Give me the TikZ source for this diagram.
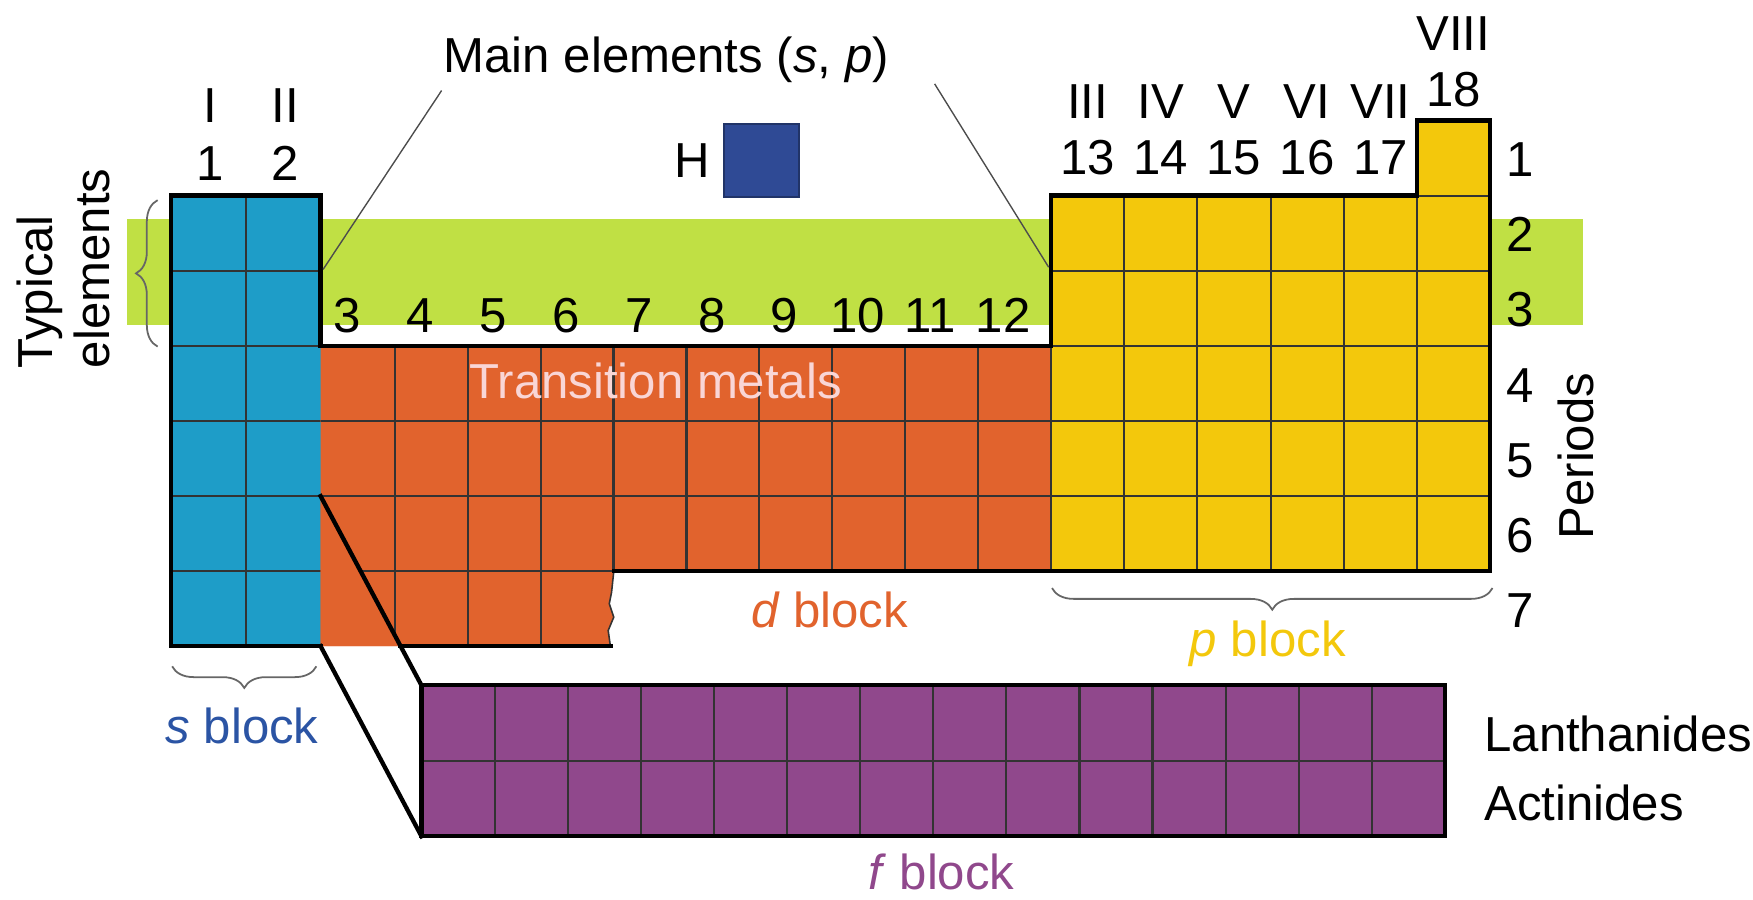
\documentclass[tikz,border=0pt]{standalone}
\usepackage{fontspec}
\setmainfont{Liberation Sans}
\usepackage{xcolor}
\usepackage{tikz}
\usetikzlibrary{decorations.pathreplacing}
\definecolor{sblue}{HTML}{1E9DC8}
\definecolor{dorange}{HTML}{E1632D}
\definecolor{pyellow}{HTML}{F3C80C}
\definecolor{fpurple}{HTML}{90488C}
\definecolor{bandgreen}{HTML}{C0E044}
\definecolor{hblue}{HTML}{2F4A95}
\definecolor{stext}{HTML}{2B54A4}
\definecolor{tpink}{HTML}{F9D6D6}

\begin{document}
\begin{tikzpicture}[x=0.01cm, y=-0.01cm,
    every node/.style={font=\fontsize{12.5}{14.5}\selectfont, inner sep=0pt},
    grid/.style={black!80, line width=0.55pt},
    edge/.style={black, line width=1.1pt, line cap=rect},
    lead/.style={black!70, line width=0.35pt},
    brc/.style={decorate, decoration={brace, amplitude=5.5pt}, black!60, line width=0.45pt}]
            \useasboundingbox (0,0) rectangle (1568,805);
            \fill [bandgreen] (113.5,196) rectangle (1416,291);
            \fill [sblue] (153,175) rectangle (286.8,578);
            \draw [grid] (220,175) -- (220,578);
            \foreach \y in {242.2,309.4,376.6,443.8,511}
                \draw [grid] (153,\y) -- (286.8,\y);
            \fill [dorange] (286.8,309.4) -- (940,309.4) -- (940,511) -- (549,511) -- (547,530) -- (545,540) -- (549,552) -- (544,564) -- (546,578) -- (286.8,578) -- cycle;
            \foreach \k in {4,...,9}
                \draw [grid] ({288+65.2*\k},309.4) -- ({288+65.2*\k},511);
            \foreach \k in {1,2,3}
                \draw [grid] ({288+65.2*\k},309.4) -- ({288+65.2*\k},578);
            \draw [grid] (286.8,376.6) -- (940,376.6);
            \draw [grid] (286.8,443.8) -- (940,443.8);
            \draw [grid] (286.8,511) -- (549,511);
            \fill [dorange] (286.8,444.8) -- (358.3,578) -- (286.8,578) -- cycle;
            \draw [black!80, line width=0.4pt] (549,511) -- (547,530) -- (545,540) -- (549,552) -- (544,564) -- (546,578);
            \fill [pyellow] (940,175) rectangle (1333,511);
            \fill [pyellow] (1267.5,107.8) rectangle (1333,175);
            \draw [grid] (940,309.4) -- (940,511);
            \foreach \k in {1,...,5}
                \draw [grid] ({940+65.5*\k},175) -- ({940+65.5*\k},511);
            \foreach \y in {242.2,309.4,376.6,443.8}
                \draw [grid] (940,\y) -- (1333,\y);
            \draw [grid] (1267.5,175) -- (1333,175);
            \fill [fpurple] (377,613) rectangle (1292.5,748);
            \foreach \k in {1,...,13}
                \draw [grid] ({377+65.39*\k},613) -- ({377+65.39*\k},748);
            \draw [grid] (377,680.5) -- (1292.5,680.5);
            \coordinate (s6) at (286.8,443.8);
            \coordinate (s7) at (286.8,578);
            \coordinate (fnw) at (377,613);
            \coordinate (fsw) at (377,748);
            \draw [edge] (s7) -- (153,578) -- (153,175) -- (286.8,175) -- (286.8,309.4) -- (940,309.4) -- (940,175) -- (1267.5,175) -- (1267.5,107.8) -- (1333,107.8) -- (1333,511) -- (549,511);
            \draw [edge] (358.3,578) -- (546,578);
            \draw [edge] (s6) -- (fnw);
            \draw [edge] (s7) -- (fsw);
            \draw [edge] (fnw) rectangle (1292.5,748);
            \node [fill=hblue, draw=hblue!70!black, line width=0.4pt, minimum width=0.67cm, minimum height=0.655cm, anchor=north west] (hbox) at (647,110) {};
            \node [anchor=base] (hlbl) at (619,159) {H};
            \node [anchor=base] (main) at (596,65) {Main elements (\textit{s}, \textit{p})};
            \coordinate (ml) at (395,81);
            \coordinate (mr) at (836,75);
            \coordinate (sl) at (289,241);
            \coordinate (pl) at (938,239);
            \draw [lead] (ml) -- (sl);
            \draw [lead] (mr) -- (pl);
            \node [anchor=base] (gI) at (188,110) {I};
            \node [anchor=base] (gII) at (255,110) {II};
            \node [anchor=base] (g1) at (188,161) {1};
            \node [anchor=base] (g2) at (255,161) {2};
            \foreach \n [count=\k from 0] in {3,...,12}
                \node [anchor=base] (g\n) at ({288+65.2*\k+22.6},297) {\n};
            \foreach \n/\r [count=\k from 0] in {13/III,14/IV,15/V,16/VI,17/VII}{
                \node [anchor=base] (g\n) at ({972.75+65.5*\k},156.5) {\n};
                \node [anchor=base] (r\n) at ({972.75+65.5*\k},106) {\r};
            }
            \node [anchor=base] (g18) at (1300,95) {18};
            \node [anchor=base] (r18) at (1300,45) {VIII};
            \foreach \p in {1,...,7}
                \node [anchor=base] (per\p) at (1360,{107.8+67.2*\p-17}) {\p};
            \node [rotate=90] (periods) at (1410,408) {Periods};
            \node [rotate=90, align=left] (typ) at (57,240) {Typical\\elements};
            \draw [brc] (141,310) -- (141,179);
            \draw [brc] (283,596) -- (154,596);
            \draw [brc] (1335,526) -- (941,526);
            \node [anchor=base, text=tpink] (trans) at (586.5,356) {Transition metals};
            \node [anchor=base, text=stext] (sblk) at (216.5,665) {\textit{s} block};
            \node [anchor=base, text=dorange] (dblk) at (742,561) {\textit{d} block};
            \node [anchor=base, text=pyellow] (pblk) at (1134,587.5) {\textit{p} block};
            \node [anchor=base, text=fpurple] (fblk) at (842,796) {\textit{f} block};
            \node [anchor=base west] (lan) at (1327,672.5) {Lanthanides};
            \node [anchor=base west] (act) at (1327,733.5) {Actinides};
        \end{tikzpicture}
\end{document}
